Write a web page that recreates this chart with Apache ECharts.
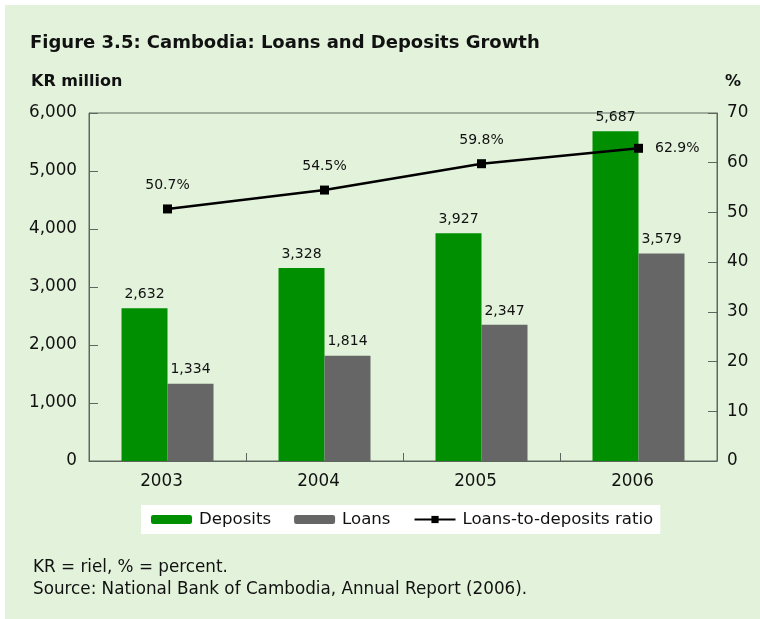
<!DOCTYPE html>
<html>
<head>
<meta charset="utf-8">
<script src="https://cdn.jsdelivr.net/npm/echarts@6/dist/echarts.min.js"></script>
<style>
  html, body { margin: 0; padding: 0; background: #ffffff; }
  #chart { width: 760px; height: 619px; }
</style>
</head>
<body>
<div id="chart"></div>
<script>
// Cambodia: loans and deposits (KR million) and the loans-to-deposits ratio (%)
const years = ['2003', '2004', '2005', '2006'];
const deposits = [2632, 3328, 3927, 5687];
const loans = [1334, 1814, 2347, 3579];
const ratio = [50.7, 54.5, 59.8, 62.9];
const leftTicks = [0, 6000, 1000];   // min, max, interval
const rightTicks = [0, 70, 10];

const FONT = '"DejaVu Sans", "Noto Sans", sans-serif';
const BG = '#e3f3db';
const AXIS = '#5e665e';
const fmtThousands = v => Number(v).toLocaleString('en-US');

const chart = echarts.init(document.getElementById('chart'), null, { renderer: 'canvas' });

const ratioData = ratio.map((v, i) => i === ratio.length - 1
  ? { value: v, label: { position: 'right', distance: 12 } }
  : v);

chart.setOption({
  backgroundColor: '#ffffff',
  textStyle: { fontFamily: FONT, color: '#111' },
  graphic: [
    { type: 'rect', z: -10, shape: { x: 5, y: 5, width: 760, height: 619 }, style: { fill: BG } }
  ],
  title: [
    { text: 'Figure 3.5: Cambodia: Loans and Deposits Growth', left: 25, top: 29,
      textStyle: { fontFamily: FONT, fontSize: 18, fontWeight: 'bold', color: '#111' } },
    { text: 'KR million', left: 26, top: 69,
      textStyle: { fontFamily: FONT, fontSize: 16, fontWeight: 'bold', color: '#111' } },
    { text: '%', left: 720, top: 69,
      textStyle: { fontFamily: FONT, fontSize: 16, fontWeight: 'bold', color: '#111' } },
    { text: 'KR = riel, % = percent.\nSource: National Bank of Cambodia, Annual Report (2006).', left: 28, top: 552,
      textStyle: { fontFamily: FONT, fontSize: 16.8, fontWeight: 'normal', color: '#111', lineHeight: 22 } }
  ],
  legend: {
    left: 141, top: 505,
    backgroundColor: '#ffffff',
    padding: [6, 7, 6, 10],
    itemWidth: 41, itemHeight: 9, itemGap: 23,
    textStyle: { fontFamily: FONT, fontSize: 16.6, color: '#111', padding: [0, 0, 0, 2] },
    data: ['Deposits', 'Loans', 'Loans-to-deposits ratio']
  },
  grid: {
    left: 89, right: 43, top: 113, bottom: 158,
    show: true, borderColor: AXIS, borderWidth: 1, backgroundColor: 'transparent'
  },
  xAxis: {
    type: 'category',
    data: years,
    axisLine: { lineStyle: { color: AXIS, width: 1 } },
    axisTick: { show: true, inside: true, length: 8, alignWithLabel: false, lineStyle: { color: AXIS } },
    axisLabel: { fontFamily: FONT, fontSize: 16.8, color: '#111', margin: 12, padding: [0, 12, 0, 0] }
  },
  yAxis: [
    {
      type: 'value', min: leftTicks[0], max: leftTicks[1], interval: leftTicks[2],
      axisLine: { show: true, lineStyle: { color: AXIS } },
      axisTick: { show: true, inside: true, length: 9, lineStyle: { color: AXIS } },
      splitLine: { show: false },
      axisLabel: { fontFamily: FONT, fontSize: 16.8, color: '#111', margin: 12, formatter: fmtThousands }
    },
    {
      type: 'value', min: rightTicks[0], max: rightTicks[1], interval: rightTicks[2],
      position: 'right',
      axisLine: { show: true, lineStyle: { color: AXIS } },
      axisTick: { show: true, inside: true, length: 9, lineStyle: { color: AXIS } },
      splitLine: { show: false },
      axisLabel: { fontFamily: FONT, fontSize: 16.8, color: '#111', margin: 10 }
    }
  ],
  series: [
    {
      name: 'Deposits', type: 'bar', data: deposits, yAxisIndex: 0,
      barWidth: 46, barGap: '0%',
      itemStyle: { color: '#008f00' },
      label: { show: true, position: 'top', distance: 7, fontFamily: FONT, fontSize: 14, color: '#111', formatter: p => fmtThousands(p.value) }
    },
    {
      name: 'Loans', type: 'bar', data: loans, yAxisIndex: 0,
      barWidth: 46, barGap: '0%',
      itemStyle: { color: '#666666' },
      label: { show: true, position: 'top', distance: 7, fontFamily: FONT, fontSize: 14, color: '#111', formatter: p => fmtThousands(p.value) }
    },
    {
      name: 'Loans-to-deposits ratio', type: 'line', data: ratioData, yAxisIndex: 1,
      symbol: 'rect', symbolSize: 9,
      lineStyle: { color: '#000', width: 2.5 },
      itemStyle: { color: '#000' },
      z: 5,
      label: {
        show: true, position: 'top', distance: 12, fontFamily: FONT, fontSize: 14, color: '#111',
        formatter: p => Number(p.value).toFixed(1) + '%'
      }
    }
  ]
});
</script>
</body>
</html>
